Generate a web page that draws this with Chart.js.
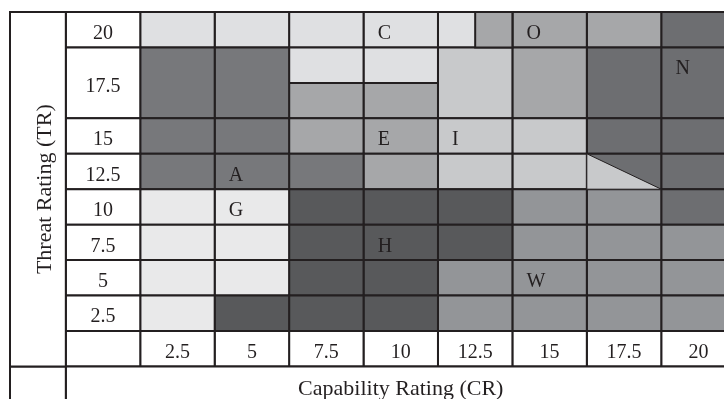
<!DOCTYPE html>
<html>
<head>
<meta charset="utf-8">
<title>Threat / Capability rating matrix</title>
<script src="https://cdn.jsdelivr.net/npm/chart.js@4.4.1/dist/chart.umd.min.js"></script>
<style>
    html, body { margin: 0; padding: 0; background: #fff; }
    #wrap { width: 724px; height: 399px; position: relative; }
</style>
</head>
<body>
<div id="wrap"><canvas id="rating-matrix"></canvas></div>
<script>
(function () {
    "use strict";

    // Columns: capability rating, rows: threat rating (bottom to top)
    const capability = ["2.5", "5", "7.5", "10", "12.5", "15", "17.5", "20"];
    const threat = ["2.5", "5", "7.5", "10", "12.5", "15", "17.5", "20"];
    const threatRowSpan = [1, 1, 1, 1, 1, 1, 2, 1];

    // Shade levels, 0 = lightest ... 7 = darkest
    const shades = ["#e9e9ea", "#dfe0e2", "#c8c9cb", "#a6a7a9", "#939598", "#77787b", "#6d6e71", "#58595b"];

    const tr2_5 = [0, 7, 7, 7, 4, 4, 4, 4];
    const tr5 = [0, 0, 7, 7, 4, 4, 4, 4];
    const tr7_5 = [0, 0, 7, 7, 7, 4, 4, 4];
    const tr10 = [0, 0, 7, 7, 7, 4, 4, 6];
    const tr12_5 = [5, 5, 5, 3, 2, 2, 6, 6];
    const tr15 = [5, 5, 3, 3, 2, 2, 6, 6];
    const tr17_5Lower = [5, 5, 3, 3, 2, 3, 6, 6];
    const tr17_5Upper = [5, 5, 1, 1, 2, 3, 6, 6];
    const tr20 = [1, 1, 1, 1, 1, 3, 3, 6];

    // Part cells laid on top of the grid
    const overlays = [
        { tr: "20", cr: "12.5", shape: "rightHalf", shade: 3 },
        { tr: "12.5", cr: "17.5", shape: "lowerTriangle", shade: 2 },
    ];

    const cellLabels = [
        { text: "C", cr: "10", tr: "20" },
        { text: "O", cr: "15", tr: "20" },
        { text: "N", cr: "20", tr: "17.5" },
        { text: "E", cr: "10", tr: "15" },
        { text: "I", cr: "12.5", tr: "15" },
        { text: "A", cr: "5", tr: "12.5" },
        { text: "G", cr: "5", tr: "10" },
        { text: "H", cr: "10", tr: "7.5" },
        { text: "W", cr: "15", tr: "5" },
    ];

    const LINE = "#231f20";
    const TEXT = "#231f20";
    const FONT = '"Liberation Serif", "Times New Roman", serif';

    // row extents in row units
    const rowBottom = [];
    let acc = 0;
    threatRowSpan.forEach((s) => { rowBottom.push(acc); acc += s; });
    const rowTop = rowBottom.map((b, i) => b + threatRowSpan[i]);
    const gridTop = acc;

    function box(x0, x1, y0, y1) {
        return [
            { x: x0, y: y0 }, { x: x1, y: y0 }, { x: x1, y: y1 },
            { x: x0, y: y1 }, { x: x0, y: y0 },
        ];
    }

    function cell(points, color, width, order) {
        return {
            data: points,
            backgroundColor: color,
            borderColor: LINE,
            borderWidth: width,
            fill: "shape",
            pointRadius: 0,
            tension: 0,
            clip: false,
            order: order || 0,
            borderCapStyle: "square",
            borderJoinStyle: "miter",
        };
    }

    const datasets = [];

    // frame: title column, tick column, tick row, bottom title row
    datasets.push(cell(box(-1.75, -1, -1, gridTop), "#ffffff", 2));
    datasets.push(cell(box(-1.75, -1, -3, -1), "#ffffff", 2));
    datasets.push(cell(box(-1, 9, -3, -1), "#ffffff", 2));
    datasets.push(cell(box(-1, 0, -1, 0), "#ffffff", 2));
    threat.forEach((t, i) => {
        datasets.push(cell(box(-1, 0, rowBottom[i], rowTop[i]), "#ffffff", 2));
    });
    capability.forEach((c, i) => {
        datasets.push(cell(box(i, i + 1, -1, 0), "#ffffff", 2));
    });

    // shaded grid
    const rows = [tr2_5, tr5, tr7_5, tr10, tr12_5, tr15, null, tr20];
    rows.forEach((row, r) => {
        capability.forEach((c, i) => {
            if (row) {
                datasets.push(cell(box(i, i + 1, rowBottom[r], rowTop[r]), shades[row[i]], 2));
            } else if (tr17_5Lower[i] === tr17_5Upper[i]) {
                datasets.push(cell(box(i, i + 1, rowBottom[r], rowTop[r]), shades[tr17_5Lower[i]], 2));
            } else {
                const mid = rowBottom[r] + 1;
                datasets.push(cell(box(i, i + 1, rowBottom[r], mid), shades[tr17_5Lower[i]], 2));
                datasets.push(cell(box(i, i + 1, mid, rowTop[r]), shades[tr17_5Upper[i]], 2));
            }
        });
    });

    overlays.forEach((o) => {
        const i = capability.indexOf(o.cr);
        const r = threat.indexOf(o.tr);
        const y0 = rowBottom[r];
        const y1 = rowTop[r];
        if (o.shape === "rightHalf") {
            datasets.push(cell(box(i + 0.5, i + 1, y0, y1), shades[o.shade], 2, -1));
        } else {
            const tri = [{ x: i, y: y1 }, { x: i + 1, y: y0 }, { x: i, y: y0 }, { x: i, y: y1 }];
            datasets.push(cell(tri, shades[o.shade], 1, -1));
        }
    });

    const tableText = {
        id: "tableText",
        afterDatasetsDraw(chart) {
            const { ctx } = chart;
            const x = chart.scales.x;
            const y = chart.scales.y;
            ctx.save();
            ctx.fillStyle = TEXT;
            ctx.textBaseline = "middle";
            ctx.font = "20px " + FONT;
            ctx.textAlign = "center";
            threat.forEach((t, i) => {
                const mid = (rowBottom[i] + rowTop[i]) / 2;
                ctx.fillText(t, x.getPixelForValue(-0.5), y.getPixelForValue(mid) + 4);
            });
            capability.forEach((c, i) => {
                ctx.fillText(c, x.getPixelForValue(i + 0.5), y.getPixelForValue(-0.5) + 4);
            });
            ctx.textAlign = "left";
            cellLabels.forEach((l) => {
                const i = capability.indexOf(l.cr);
                const r = threat.indexOf(l.tr);
                ctx.fillText(l.text, x.getPixelForValue(i + 0.19), y.getPixelForValue(rowTop[r] - 0.5) + 4);
            });
            ctx.font = "22px " + FONT;
            ctx.textAlign = "center";
            ctx.fillText("Capability Rating (CR)", x.getPixelForValue(3.5), y.getPixelForValue(-1.5) + 5);
            ctx.translate(x.getPixelForValue(-1.375) + 7, y.getPixelForValue(gridTop / 2 - 0.5));
            ctx.rotate(-Math.PI / 2);
            ctx.fillText("Threat Rating (TR)", 0, 0);
            ctx.restore();
        },
    };

    new Chart(document.getElementById("rating-matrix"), {
        type: "line",
        data: { datasets: datasets },
        options: {
            responsive: true,
            maintainAspectRatio: false,
            animation: false,
            events: [],
            layout: { padding: { left: 10, top: 12, right: 0, bottom: 0 } },
            plugins: {
                legend: { display: false },
                tooltip: { enabled: false },
            },
            scales: {
                x: { type: "linear", min: -1.75, max: 7.843, display: false },
                y: { type: "linear", min: -1.92, max: 9, display: false },
            },
        },
        plugins: [tableText],
    });
})();
</script>
</body>
</html>
